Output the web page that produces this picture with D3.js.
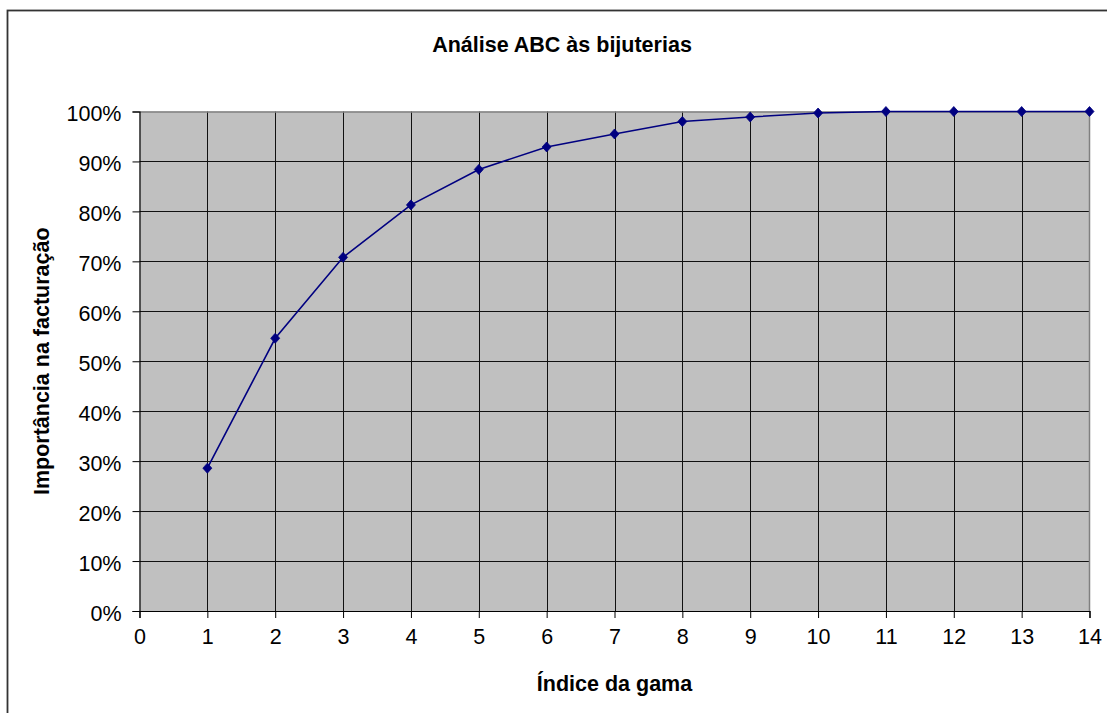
<!DOCTYPE html>
<html>
<head>
<meta charset="utf-8">
<script src="https://cdn.jsdelivr.net/npm/d3@7"></script>
<style>
  html, body { margin: 0; padding: 0; background: #fff; }
  svg { display: block; }
  text { font-family: "Liberation Sans", Arial, sans-serif; fill: #000; }
</style>
</head>
<body>
<svg id="chart" width="1107" height="713"></svg>
<script>
// Cumulative share of turnover by product range index (ABC analysis)
const gamaIndex = [1, 2, 3, 4, 5, 6, 7, 8, 9, 10, 11, 12, 13, 14];
const cumulativeShare = [0.286, 0.546, 0.708, 0.813, 0.884, 0.929, 0.955, 0.980, 0.989, 0.997, 1.0, 1.0, 1.0, 1.0];
const xTicks = d3.range(0, 15);
const yTicks = d3.range(0, 1.0001, 0.1);

const chartTitle = "Análise ABC às bijuterias";
const xTitle = "Índice da gama";
const yTitle = "Importância na facturação";

const svg = d3.select("#chart");
const W = 1107, H = 713;
const plot = { left: 139.5, right: 1089.5, top: 111.5, bottom: 611 };

const x = d3.scaleLinear().domain([0, 14]).range([plot.left, plot.right]);
const y = d3.scaleLinear().domain([0, 1]).range([plot.bottom, plot.top]);

// Outer chart frame
svg.append("rect")
  .attr("x", 7.5).attr("y", 10.5)
  .attr("width", W + 20).attr("height", H + 20)
  .attr("fill", "#fff").attr("stroke", "#333").attr("stroke-width", 1.8);

// Plot background
svg.append("rect")
  .attr("x", plot.left).attr("y", plot.top)
  .attr("width", plot.right - plot.left).attr("height", plot.bottom - plot.top)
  .attr("fill", "#c0c0c0");

// Gridlines
const grid = svg.append("g").attr("stroke", "#111").attr("stroke-width", 1);
grid.selectAll("line.v").data(xTicks.slice(1, -1)).join("line")
  .attr("x1", d => Math.round(x(d)) + 0.5).attr("x2", d => Math.round(x(d)) + 0.5)
  .attr("y1", plot.top).attr("y2", plot.bottom);
grid.selectAll("line.h").data(yTicks.slice(1, -1)).join("line")
  .attr("y1", d => Math.round(y(d)) + 0.5).attr("y2", d => Math.round(y(d)) + 0.5)
  .attr("x1", plot.left).attr("x2", plot.right);

// Plot border (top / right)
svg.append("path")
  .attr("d", `M${plot.left},${plot.top + 0.5}H${plot.right}V${plot.bottom}`)
  .attr("fill", "none").attr("stroke", "#808080").attr("stroke-width", 1.5);

// Axes
const xAxis = d3.axisBottom(x).tickValues(xTicks).tickSize(7).tickPadding(11).tickFormat(d3.format("d"));
const yAxis = d3.axisLeft(y).tickValues(yTicks).tickSize(7).tickPadding(11).tickFormat(d3.format(".0%"));

const gx = svg.append("g").attr("transform", `translate(0,${plot.bottom})`).call(xAxis);
const gy = svg.append("g").attr("transform", `translate(${plot.left},0)`).call(yAxis);

[gx, gy].forEach(g => {
  g.select(".domain").attr("stroke", "#000").attr("stroke-width", 1.2);
  g.selectAll(".tick line").attr("stroke", "#000");
  g.selectAll(".tick text")
    .attr("font-family", '"Liberation Sans", Arial, sans-serif')
    .attr("font-size", 21.5).attr("fill", "#000");
});
gx.selectAll(".tick text").attr("dy", "0.71em");
gy.selectAll(".tick text").attr("dy", "0.42em");

// Cumulative curve
const pts = gamaIndex.map((g, i) => [g, cumulativeShare[i]]);
svg.append("path")
  .datum(pts)
  .attr("fill", "none").attr("stroke", "#000080").attr("stroke-width", 1.6)
  .attr("d", d3.line().x(d => x(d[0])).y(d => y(d[1])));

svg.append("g").selectAll("path").data(pts).join("path")
  .attr("transform", d => `translate(${x(d[0])},${y(d[1])})`)
  .attr("d", "M0,-5L4.5,0L0,5L-4.5,0Z")
  .attr("fill", "#000080").attr("stroke", "#000080").attr("stroke-width", 0.8);

// Titles
svg.append("text")
  .attr("x", 562).attr("y", 52)
  .attr("text-anchor", "middle")
  .attr("font-weight", "bold").attr("font-size", 21.5)
  .text(chartTitle);

svg.append("text")
  .attr("x", (plot.left + plot.right) / 2).attr("y", 691)
  .attr("text-anchor", "middle")
  .attr("font-weight", "bold").attr("font-size", 21.5)
  .text(xTitle);

svg.append("text")
  .attr("transform", `translate(49,${(plot.top + plot.bottom) / 2}) rotate(-90)`)
  .attr("text-anchor", "middle")
  .attr("font-weight", "bold").attr("font-size", 21.5)
  .text(yTitle);
</script>
</body>
</html>
